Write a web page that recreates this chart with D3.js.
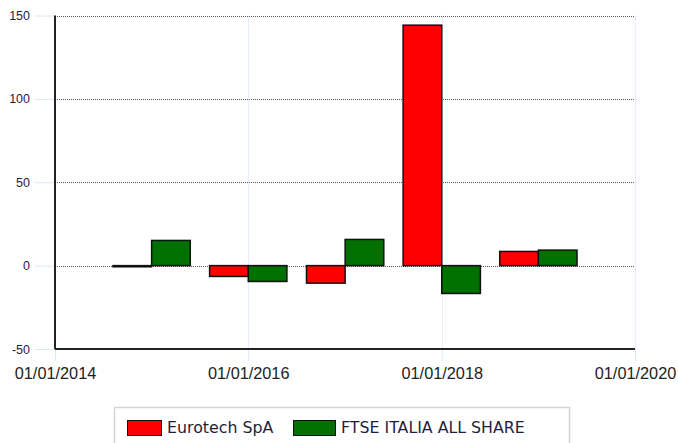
<!DOCTYPE html>
<html>
<head>
<meta charset="utf-8">
<script src="https://cdn.jsdelivr.net/npm/d3@7"></script>
<style>
  html, body { margin: 0; padding: 0; background: #fff; }
  svg { display: block; }
</style>
</head>
<body>
<div id="chart"></div>
<script>
// values (yearly performance, %)
const years = [2015, 2016, 2017, 2018, 2019];
const eurotech = [-0.7, -6.5, -10.5, 144.2, 8.5];
const ftse = [15.1, -9.5, 15.7, -16.7, 9.3];
const seriesNames = ['Eurotech SpA', 'FTSE ITALIA ALL SHARE'];
const seriesColors = ['#ff0000', '#007000'];
const yTicks = [-50, 0, 50, 100, 150];
const xTickYears = [2014, 2016, 2018, 2020];

const W = 678, H = 443;
const m = { top: 15.5, right: 43, bottom: 94, left: 55 };

const svg = d3.select('#chart').append('svg').attr('width', W).attr('height', H);

const x = d3.scaleTime()
  .domain([new Date(2014, 0, 1), new Date(2020, 0, 1)])
  .range([m.left, W - m.right]);
const y = d3.scaleLinear().domain([-50, 150]).range([H - m.bottom, m.top]);

const x0 = m.left, x1 = W - m.right, yb = H - m.bottom;

// horizontal dotted grid
svg.append('g').selectAll('line').data(yTicks.filter(v => v > -50)).join('line')
  .attr('x1', x0).attr('x2', x1)
  .attr('y1', d => Math.round(y(d)) + 0.5).attr('y2', d => Math.round(y(d)) + 0.5)
  .attr('stroke', '#555').attr('stroke-width', 1).attr('stroke-dasharray', '1,1');

// vertical light grid
svg.append('g').selectAll('line').data(xTickYears.slice(1)).join('line')
  .attr('x1', d => Math.round(x(new Date(d, 0, 1))) + 0.5).attr('x2', d => Math.round(x(new Date(d, 0, 1))) + 0.5)
  .attr('y1', m.top).attr('y2', yb)
  .attr('stroke', '#cfe0f5').attr('stroke-width', 1).attr('stroke-dasharray', '1,1');

// y axis (plain hyphen for negatives, as in the reference)
const yAxis = svg.append('g').attr('transform', `translate(${x0},0)`)
  .call(d3.axisLeft(y).tickValues(yTicks).tickFormat(d => String(d)).tickSize(20).tickPadding(5));
yAxis.select('.domain').remove();
yAxis.selectAll('line').attr('stroke', '#dce8f6');
yAxis.selectAll('text').attr('font-family', 'Liberation Sans, Arial, sans-serif')
  .attr('font-size', 12.5).attr('fill', '#1e1e3c');

// x axis
const xAxis = svg.append('g').attr('transform', `translate(0,${yb})`)
  .call(d3.axisBottom(x).tickValues(xTickYears.map(d => new Date(d, 0, 1)))
    .tickFormat(d3.timeFormat('%d/%m/%Y')).tickSize(12).tickPadding(6));
xAxis.select('.domain').remove();
xAxis.selectAll('line').attr('stroke', '#dce8f6');
xAxis.selectAll('text').attr('font-family', 'Liberation Sans, Arial, sans-serif')
  .attr('font-size', 16.3).attr('fill', '#222');

// bars: red to the left of Jan 1, green to the right
const barW = (x(new Date(2016, 0, 1)) - x(new Date(2014, 0, 1))) / 2 * 0.4;
const rows = years.map((yr, i) => ({ yr, vals: [eurotech[i], ftse[i]] }));
const bars = svg.append('g');
rows.forEach(r => {
  const cx = x(new Date(r.yr, 0, 1));
  r.vals.forEach((v, j) => {
    const left = j === 0 ? cx - barW : cx;
    bars.append('rect')
      .attr('x', left).attr('width', barW)
      .attr('y', Math.min(y(v), y(0))).attr('height', Math.abs(y(v) - y(0)))
      .attr('fill', seriesColors[j]).attr('stroke', '#111').attr('stroke-width', 1.5);
  });
});

// axis lines
svg.append('line').attr('x1', x0).attr('x2', x0).attr('y1', m.top).attr('y2', yb)
  .attr('stroke', '#222').attr('stroke-width', 2);
svg.append('line').attr('x1', x0).attr('x2', x1).attr('y1', yb).attr('y2', yb)
  .attr('stroke', '#222').attr('stroke-width', 2);

// legend
const lg = svg.append('g');
lg.append('rect').attr('x', 114.5).attr('y', 407.5).attr('width', 455).attr('height', 50)
  .attr('fill', '#fff').attr('stroke', '#d4d4d4').attr('stroke-width', 1.5);
const legendX = [127, 293];
const swW = [34, 42];
seriesNames.forEach((name, i) => {
  lg.append('rect').attr('x', legendX[i] + 0.5).attr('y', 420.5).attr('width', swW[i]).attr('height', 15)
    .attr('fill', seriesColors[i]).attr('stroke', '#111').attr('stroke-width', 1);
  lg.append('text').attr('x', legendX[i] + swW[i] + 6).attr('y', 433)
    .attr('font-family', 'DejaVu Sans, Verdana, sans-serif').attr('font-size', 15.8)
    .attr('fill', '#1e1e3c').text(name);
});
</script>
</body>
</html>
